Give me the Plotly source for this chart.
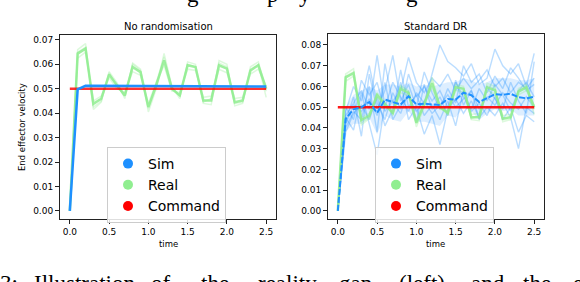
import plotly.graph_objects as go

W, H = 580, 282

time = [round(0.1 * i, 1) for i in range(26)]
command = [0.05] * 26

# Left panel: No randomisation
sim_left = [0, 0.0498, 0.0512, 0.0512, 0.0512, 0.0511, 0.0511, 0.0511, 0.0511, 0.0511, 0.0510, 0.0510,
            0.0510, 0.0510, 0.0510, 0.0510, 0.0510, 0.0510, 0.0509, 0.0509, 0.0509, 0.0509, 0.0509, 0.0509,
            0.0509, 0.0509]

real_mean = [0, 0.0644, 0.0664, 0.0438, 0.0459, 0.0558, 0.0514, 0.0473, 0.0589, 0.0568, 0.0425, 0.0514,
             0.0616, 0.0500, 0.0473, 0.0596, 0.0589, 0.0452, 0.0452, 0.0596, 0.0582, 0.0445, 0.0452, 0.0575,
             0.0596, 0.0500]
real_run1 = [0, 0.0660, 0.0685, 0.0425, 0.0450, 0.0570, 0.0525, 0.0460, 0.0605, 0.0580, 0.0405, 0.0500,
             0.0645, 0.0510, 0.0460, 0.0610, 0.0600, 0.0440, 0.0435, 0.0615, 0.0600, 0.0430, 0.0440, 0.0590,
             0.0610, 0.0490]
real_run2 = [0, 0.0625, 0.0650, 0.0450, 0.0470, 0.0545, 0.0500, 0.0485, 0.0570, 0.0555, 0.0440, 0.0525,
             0.0595, 0.0490, 0.0485, 0.0580, 0.0575, 0.0465, 0.0470, 0.0580, 0.0565, 0.0460, 0.0465, 0.0560,
             0.0580, 0.0510]
real_run3 = [0, 0.0650, 0.0670, 0.0415, 0.0445, 0.0565, 0.0510, 0.0470, 0.0600, 0.0575, 0.0420, 0.0530,
             0.0630, 0.0505, 0.0470, 0.0600, 0.0590, 0.0445, 0.0460, 0.0605, 0.0590, 0.0440, 0.0445, 0.0580,
             0.0600, 0.0465]
real_runs = [real_run1, real_run2, real_run3]

# Right panel: Standard DR
sim_dr_mean = [0, 0.0444, 0.0490, 0.0500, 0.0525, 0.0472, 0.0537, 0.0526, 0.0513, 0.0553, 0.0514, 0.0517,
               0.0512, 0.0510, 0.0540, 0.0536, 0.0570, 0.0558, 0.0525, 0.0545, 0.0563, 0.0560, 0.0565,
               0.0548, 0.0543, 0.0550]
sim_dr_upper = [0, 0.050, 0.056, 0.058, 0.060, 0.058, 0.061, 0.061, 0.060, 0.062, 0.060, 0.061, 0.060,
                0.061, 0.062, 0.062, 0.064, 0.063, 0.061, 0.062, 0.064, 0.064, 0.064, 0.063, 0.063, 0.064]
sim_dr_lower = [0, 0.038, 0.042, 0.042, 0.045, 0.037, 0.046, 0.044, 0.043, 0.048, 0.043, 0.043, 0.042,
                0.041, 0.046, 0.045, 0.050, 0.048, 0.044, 0.047, 0.049, 0.048, 0.049, 0.046, 0.046, 0.046]
sim_run1 = [0, 0.046, 0.052, 0.058, 0.049, 0.075, 0.050, 0.062, 0.055, 0.048, 0.057, 0.052, 0.066, 0.080,
            0.072, 0.069, 0.065, 0.071, 0.061, 0.064, 0.078, 0.070, 0.066, 0.071, 0.060, 0.076]
sim_run2 = [0, 0.040, 0.048, 0.044, 0.060, 0.038, 0.071, 0.052, 0.047, 0.058, 0.043, 0.061, 0.049, 0.055,
            0.046, 0.063, 0.051, 0.058, 0.044, 0.060, 0.054, 0.049, 0.062, 0.053, 0.047, 0.072]
sim_run3 = [0, 0.043, 0.055, 0.036, 0.066, 0.049, 0.058, 0.075, 0.053, 0.061, 0.050, 0.067, 0.057, 0.049,
            0.059, 0.052, 0.070, 0.062, 0.066, 0.057, 0.065, 0.059, 0.069, 0.064, 0.058, 0.061]
sim_run4 = [0, 0.045, 0.039, 0.057, 0.042, 0.027, 0.052, 0.047, 0.068, 0.050, 0.056, 0.046, 0.051, 0.044,
            0.053, 0.041, 0.058, 0.048, 0.052, 0.046, 0.055, 0.044, 0.050, 0.038, 0.046, 0.043]
sim_run5 = [0, 0.048, 0.060, 0.053, 0.070, 0.052, 0.044, 0.057, 0.049, 0.066, 0.055, 0.060, 0.053, 0.058,
            0.050, 0.062, 0.055, 0.049, 0.059, 0.053, 0.061, 0.056, 0.048, 0.058, 0.062, 0.055]
sim_run6 = [0, 0.038, 0.047, 0.051, 0.044, 0.055, 0.041, 0.049, 0.062, 0.044, 0.050, 0.037, 0.046, 0.032,
            0.049, 0.054, 0.047, 0.053, 0.045, 0.050, 0.046, 0.052, 0.045, 0.030, 0.050, 0.047]
sim_run7 = [0, 0.050, 0.044, 0.063, 0.056, 0.062, 0.048, 0.053, 0.058, 0.074, 0.062, 0.057, 0.064, 0.060,
            0.066, 0.058, 0.064, 0.059, 0.063, 0.068, 0.060, 0.064, 0.057, 0.062, 0.059, 0.064]
sim_run8 = [0, 0.042, 0.051, 0.048, 0.054, 0.046, 0.062, 0.044, 0.051, 0.055, 0.048, 0.053, 0.047, 0.051,
            0.056, 0.050, 0.054, 0.058, 0.049, 0.055, 0.051, 0.057, 0.052, 0.049, 0.055, 0.050]
sim_runs = [sim_run1, sim_run2, sim_run3, sim_run4, sim_run5, sim_run6, sim_run7, sim_run8]

titles = ["No randomisation", "Standard DR"]
legend_names = ["Sim", "Real", "Command"]
y_ticks_left = [0.00, 0.01, 0.02, 0.03, 0.04, 0.05, 0.06, 0.07]
y_ticks_right = [0.00, 0.01, 0.02, 0.03, 0.04, 0.05, 0.06, 0.07, 0.08]
x_ticks = [0.0, 0.5, 1.0, 1.5, 2.0, 2.5]

BLUE = "#1E90FF"
GREEN = "#90EE90"
RED = "#FF0000"
FONT = "DejaVu Sans"
SERIF = "Liberation Serif"


def px_x(p):
    return p / W


def px_y(p):
    return (H - p) / H


fig = go.Figure()

# ---- left panel ----
for run in real_runs:
    fig.add_trace(go.Scatter(x=time, y=run, mode="lines", line=dict(color=GREEN, width=1.5),
                             opacity=0.3, showlegend=False, xaxis="x", yaxis="y"))
fig.add_trace(go.Scatter(x=time, y=real_mean, mode="lines", line=dict(color=GREEN, width=2.5),
                         opacity=0.85, showlegend=False, xaxis="x", yaxis="y"))
fig.add_trace(go.Scatter(x=time, y=command, mode="lines", line=dict(color=RED, width=2.5),
                         opacity=0.8, showlegend=False, xaxis="x", yaxis="y"))
fig.add_trace(go.Scatter(x=time, y=sim_left, mode="lines", line=dict(color=BLUE, width=2.5),
                         showlegend=False, xaxis="x", yaxis="y"))

# ---- right panel ----
fig.add_trace(go.Scatter(x=time, y=sim_dr_upper, mode="lines", line=dict(width=0),
                         showlegend=False, hoverinfo="skip", xaxis="x2", yaxis="y2"))
fig.add_trace(go.Scatter(x=time, y=sim_dr_lower, mode="lines", line=dict(width=0), fill="tonexty",
                         fillcolor="rgba(30,144,255,0.15)", showlegend=False, hoverinfo="skip",
                         xaxis="x2", yaxis="y2"))
for run in sim_runs:
    fig.add_trace(go.Scatter(x=time, y=run, mode="lines", line=dict(color=BLUE, width=1.4),
                             opacity=0.3, showlegend=False, xaxis="x2", yaxis="y2"))
for run in real_runs:
    fig.add_trace(go.Scatter(x=time, y=run, mode="lines", line=dict(color=GREEN, width=1.5),
                             opacity=0.3, showlegend=False, xaxis="x2", yaxis="y2"))
fig.add_trace(go.Scatter(x=time, y=real_mean, mode="lines", line=dict(color=GREEN, width=2.5),
                         opacity=0.85, showlegend=False, xaxis="x2", yaxis="y2"))
fig.add_trace(go.Scatter(x=time, y=command, mode="lines", line=dict(color=RED, width=2.5),
                         opacity=0.9, showlegend=False, xaxis="x2", yaxis="y2"))
fig.add_trace(go.Scatter(x=time, y=sim_dr_mean, mode="lines", line=dict(color=BLUE, width=2, dash="6px,2px"),
                         showlegend=False, xaxis="x2", yaxis="y2"))

# ---- legend entries ----
for lg, ax in (("legend", ("x", "y")), ("legend2", ("x2", "y2"))):
    for name, col in zip(legend_names, [BLUE, GREEN, RED]):
        fig.add_trace(go.Scatter(x=[None], y=[None], mode="markers", name=name,
                                 marker=dict(color=col, size=10), legend=lg,
                                 xaxis=ax[0], yaxis=ax[1]))

axis_common = dict(showgrid=False, zeroline=False, showline=True, linecolor="#222", linewidth=1,
                   mirror=True, ticks="outside", ticklen=4, tickcolor="#222", automargin=False,
                   tickfont=dict(family=FONT, size=9, color="black"))

legend_common = dict(xanchor="left", yanchor="top", traceorder="normal",
                     font=dict(family=FONT, size=14, color="black"), bgcolor="rgba(255,255,255,0.85)",
                     bordercolor="#cccccc", borderwidth=1, itemwidth=30, tracegroupgap=0)

y_bot, y_top = px_y(219), px_y(35)
fig.update_layout(
    width=W, height=H, margin=dict(l=0, r=0, t=0, b=0, autoexpand=False),
    paper_bgcolor="white", plot_bgcolor="white",
    xaxis=dict(domain=[px_x(60), px_x(276)], range=[-0.125, 2.625], tickvals=x_ticks,
               ticktext=[f"{v:.1f}" for v in x_ticks], anchor="y", **axis_common),
    yaxis=dict(domain=[y_bot, y_top], range=[-0.0033, 0.0720], tickvals=y_ticks_left,
               ticktext=[f"{v:.2f}" for v in y_ticks_left], anchor="x", **axis_common),
    xaxis2=dict(domain=[px_x(328), px_x(544)], range=[-0.125, 2.625], tickvals=x_ticks,
                ticktext=[f"{v:.1f}" for v in x_ticks], anchor="y2", **axis_common),
    yaxis2=dict(domain=[y_bot, px_y(34)], range=[-0.0039, 0.0853], tickvals=y_ticks_right,
                ticktext=[f"{v:.2f}" for v in y_ticks_right], anchor="x2", **axis_common),
    legend=dict(x=px_x(107), y=px_y(147), **legend_common),
    legend2=dict(x=px_x(375), y=px_y(147), **legend_common),
)


def label(text, xp, yp, size, family=FONT, xanchor="center", yanchor="middle", angle=0):
    return dict(text=text, x=px_x(xp), y=px_y(yp), xref="paper", yref="paper",
                xanchor=xanchor, yanchor=yanchor, showarrow=False, borderpad=0, textangle=angle,
                font=dict(family=family, size=size, color="black"))


ann = [label(titles[0], 168, 26, 10), label(titles[1], 436, 26, 10),
       label("time", 168, 244, 8.5), label("time", 436, 244, 8.5),
       label("End effector velocity", 22, 127, 8.5, angle=-90)]

# surrounding paper text (clipped lines above and below the figure)
caption_words = [("3:", -1), ("Illustration", 33), ("of", 150), ("the", 200), ("reality", 257),
                 ("gap", 338), ("(left)", 398), ("and", 470), ("the", 522), ("effect", 572)]
for word, xp in caption_words:
    ann.append(label(word, xp, 270, 23, family=SERIF, xanchor="left", yanchor="top"))
top_letters = [("g", 186), ("p", 266), ("y", 298), ("g", 405)]
for word, xp in top_letters:
    ann.append(label(word, xp, 8, 23, family=SERIF, xanchor="left", yanchor="bottom"))

fig.update_layout(annotations=ann)
fig.write_html("out.html", config={"displayModeBar": False},
               post_script="document.body.style.margin='0';")
